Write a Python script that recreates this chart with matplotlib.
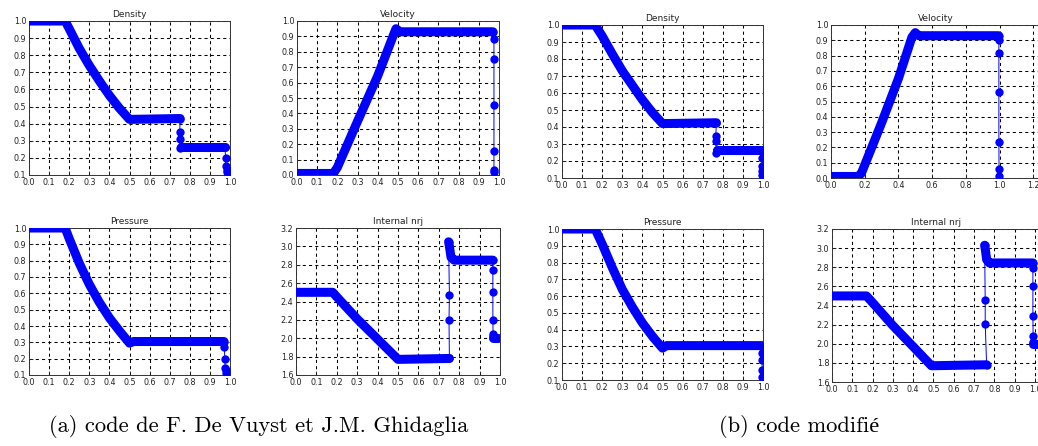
import matplotlib
matplotlib.use('Agg')
import matplotlib.pyplot as plt
import numpy as np

W, H = 1038, 446

# ---------------- (a) code de F. De Vuyst et J.M. Ghidaglia ----------------
a_dens_band1_x = [0.0, 0.18, 0.2, 0.25, 0.3, 0.35, 0.4, 0.45, 0.5, 0.752]
a_dens_band1_y = [1.0, 1.0, 0.955, 0.84, 0.74, 0.65, 0.565, 0.49, 0.425, 0.43]
a_dens_pts1_x = [0.752, 0.75, 0.75, 0.752, 0.756]
a_dens_pts1_y = [0.43, 0.35, 0.31, 0.255, 0.265]
a_dens_band2_x = [0.756, 0.975]
a_dens_band2_y = [0.265, 0.265]
a_dens_pts2_x = [0.975, 0.978, 0.98, 0.983, 0.986, 0.99]
a_dens_pts2_y = [0.265, 0.2, 0.15, 0.13, 0.12, 0.11]

a_vel_band1_x = [0.0, 0.18, 0.2, 0.3, 0.4, 0.475, 0.49, 0.51, 0.97]
a_vel_band1_y = [0.01, 0.01, 0.05, 0.35, 0.645, 0.9, 0.95, 0.93, 0.93]
a_vel_pts1_x = [0.97, 0.975, 0.975, 0.975, 0.975, 0.975, 0.976]
a_vel_pts1_y = [0.93, 0.885, 0.755, 0.455, 0.155, 0.035, 0.02]

a_pres_band1_x = [0.0, 0.18, 0.2, 0.25, 0.3, 0.35, 0.4, 0.45, 0.5, 0.52, 0.97]
a_pres_band1_y = [1.0, 1.0, 0.935, 0.785, 0.655, 0.545, 0.45, 0.37, 0.295, 0.305, 0.305]
a_pres_pts1_x = [0.97, 0.972, 0.974, 0.976, 0.978, 0.98]
a_pres_pts1_y = [0.305, 0.27, 0.2, 0.14, 0.13, 0.11]

a_ener_band1_x = [0.0, 0.18, 0.2, 0.3, 0.4, 0.5, 0.752]
a_ener_band1_y = [2.5, 2.5, 2.45, 2.21, 1.99, 1.77, 1.78]
a_ener_pts1_x = [0.752, 0.75, 0.752, 0.748]
a_ener_pts1_y = [1.78, 2.2, 2.47, 3.05]
a_ener_band2_x = [0.748, 0.752, 0.76, 0.775, 0.965]
a_ener_band2_y = [3.05, 3.0, 2.88, 2.85, 2.85]
a_ener_pts2_x = [0.965, 0.965, 0.965, 0.965, 0.966, 0.968]
a_ener_pts2_y = [2.85, 2.74, 2.5, 2.2, 2.05, 2.02]
a_ener_band3_x = [0.968, 0.99]
a_ener_band3_y = [2.0, 2.0]

# ---------------- (b) code modifié ----------------
b_dens_band1_x = [0.0, 0.165, 0.2, 0.25, 0.3, 0.35, 0.4, 0.45, 0.5, 0.768]
b_dens_band1_y = [1.0, 1.0, 0.935, 0.83, 0.73, 0.645, 0.56, 0.485, 0.42, 0.425]
b_dens_pts1_x = [0.768, 0.765, 0.765, 0.768, 0.772]
b_dens_pts1_y = [0.425, 0.345, 0.32, 0.25, 0.265]
b_dens_band2_x = [0.772, 1.0]
b_dens_band2_y = [0.265, 0.265]
b_dens_pts2_x = [0.995, 0.995, 0.995, 0.996, 0.997]
b_dens_pts2_y = [0.265, 0.22, 0.17, 0.14, 0.12]

b_vel_band1_x = [0.0, 0.16, 0.18, 0.3, 0.4, 0.48, 0.5, 0.52, 0.995]
b_vel_band1_y = [0.01, 0.01, 0.03, 0.36, 0.65, 0.92, 0.95, 0.93, 0.93]
b_vel_pts1_x = [0.995, 0.996, 0.996, 0.996, 0.996, 0.997, 0.997]
b_vel_pts1_y = [0.93, 0.905, 0.815, 0.565, 0.235, 0.06, 0.01]

b_pres_band1_x = [0.0, 0.165, 0.2, 0.25, 0.3, 0.35, 0.4, 0.45, 0.5, 0.52, 1.0]
b_pres_band1_y = [1.0, 1.0, 0.91, 0.77, 0.64, 0.535, 0.44, 0.36, 0.29, 0.305, 0.305]
b_pres_pts1_x = [0.995, 0.995, 0.995, 0.996, 0.997]
b_pres_pts1_y = [0.305, 0.26, 0.22, 0.16, 0.12]

b_ener_band1_x = [0.0, 0.17, 0.2, 0.3, 0.4, 0.49, 0.762]
b_ener_band1_y = [2.5, 2.5, 2.43, 2.19, 1.97, 1.77, 1.78]
b_ener_pts1_x = [0.762, 0.755, 0.755, 0.752]
b_ener_pts1_y = [1.78, 2.21, 2.46, 3.03]
b_ener_band2_x = [0.752, 0.756, 0.762, 0.775, 0.99]
b_ener_band2_y = [3.03, 2.98, 2.88, 2.845, 2.845]
b_ener_pts2_x = [0.99, 0.99, 0.99, 0.99, 0.991, 0.992]
b_ener_pts2_y = [2.845, 2.79, 2.6, 2.29, 2.08, 2.02]
b_ener_band3_x = [0.992, 1.02]
b_ener_band3_y = [2.0, 2.0]

titles = ["Density", "Velocity", "Pressure", "Internal nrj"]
captions = ["(a) code de F. De Vuyst et J.M. Ghidaglia", "(b) code modifié"]

BLUE = (0.0, 0.0, 1.0)

fig = plt.figure(figsize=(W / 100, H / 100), dpi=100)


def add_ax(l, r, t, b):
    return fig.add_axes([l / W, 1 - b / H, (r - l) / W, (b - t) / H])


def style(ax, title, xlim, ylim, xticks, yticks):
    ax.set_xlim(*xlim)
    ax.set_ylim(*ylim)
    ax.set_xticks(xticks)
    ax.set_yticks(yticks)
    ax.set_xticklabels(["%.1f" % v for v in xticks])
    ax.set_yticklabels(["%.1f" % v for v in yticks])
    ax.tick_params(direction='in', length=3, width=0.6, labelsize=5.8,
                   pad=2, colors='#222222', top=False, right=False)
    ax.grid(True, color='black', linestyle=(0, (3, 3)), linewidth=0.75)
    ax.set_axisbelow(True)
    for s in ax.spines.values():
        s.set_linewidth(0.7)
        s.set_color('#333333')
    ax.set_title(title, fontsize=6.5, pad=3, color='#222222')


def band(ax, x, y):
    ax.plot(x, y, color=BLUE, linewidth=6.5, solid_capstyle='round',
            solid_joinstyle='round', zorder=3)


def pts(ax, x, y):
    ax.plot(x, y, color=BLUE, linewidth=0.7, marker='o', markersize=6,
            markeredgewidth=0, zorder=4)


x10 = [i / 10 for i in range(11)]
y01 = [i / 10 for i in range(1, 11)]
y00 = [i / 10 for i in range(0, 11)]
yen = [1.6 + 0.2 * i for i in range(9)]

# ---- (a) ----
ax = add_ax(29, 230, 21, 175)
style(ax, titles[0], (0, 1), (0.1, 1.0), x10, y01)
band(ax, a_dens_band1_x, a_dens_band1_y); pts(ax, a_dens_pts1_x, a_dens_pts1_y)
band(ax, a_dens_band2_x, a_dens_band2_y); pts(ax, a_dens_pts2_x, a_dens_pts2_y)

ax = add_ax(297, 499, 21, 175)
style(ax, titles[1], (0, 1), (0.0, 1.0), x10, y00)
band(ax, a_vel_band1_x, a_vel_band1_y); pts(ax, a_vel_pts1_x, a_vel_pts1_y)

ax = add_ax(29, 230, 228, 375)
style(ax, titles[2], (0, 1), (0.1, 1.0), x10, y01)
band(ax, a_pres_band1_x, a_pres_band1_y); pts(ax, a_pres_pts1_x, a_pres_pts1_y)

ax = add_ax(296, 500, 228, 375)
style(ax, titles[3], (0, 1), (1.6, 3.2), x10, yen)
band(ax, a_ener_band1_x, a_ener_band1_y); pts(ax, a_ener_pts1_x, a_ener_pts1_y)
band(ax, a_ener_band2_x, a_ener_band2_y); pts(ax, a_ener_pts2_x, a_ener_pts2_y)
band(ax, a_ener_band3_x, a_ener_band3_y)

# ---- (b) ----
ax = add_ax(562, 763, 25, 178)
style(ax, titles[0], (0, 1), (0.1, 1.0), x10, y01)
band(ax, b_dens_band1_x, b_dens_band1_y); pts(ax, b_dens_pts1_x, b_dens_pts1_y)
band(ax, b_dens_band2_x, b_dens_band2_y); pts(ax, b_dens_pts2_x, b_dens_pts2_y)

ax = add_ax(831, 1040, 25, 178)
x12 = [0.2 * i for i in range(7)]
style(ax, titles[1], (0, 1.24), (0.0, 1.0), x12, y00)
band(ax, b_vel_band1_x, b_vel_band1_y); pts(ax, b_vel_pts1_x, b_vel_pts1_y)

ax = add_ax(562, 763, 229, 380)
style(ax, titles[2], (0, 1), (0.1, 1.0), x10, y01)
band(ax, b_pres_band1_x, b_pres_band1_y); pts(ax, b_pres_pts1_x, b_pres_pts1_y)

ax = add_ax(832, 1040, 229, 382)
style(ax, titles[3], (0, 1.025), (1.6, 3.2), x10, yen)
band(ax, b_ener_band1_x, b_ener_band1_y); pts(ax, b_ener_pts1_x, b_ener_pts1_y)
band(ax, b_ener_band2_x, b_ener_band2_y); pts(ax, b_ener_pts2_x, b_ener_pts2_y)
band(ax, b_ener_band3_x, b_ener_band3_y)

cap_font = ['cmr10', 'Liberation Serif']
fig.text(259 / W, 1 - 427 / H, captions[0], ha='center', va='center',
         fontsize=16.2, family=cap_font)
fig.text(799 / W, 1 - 427 / H, captions[1], ha='center', va='center',
         fontsize=16.2, family=cap_font)

fig.savefig('out.png', dpi=100)
